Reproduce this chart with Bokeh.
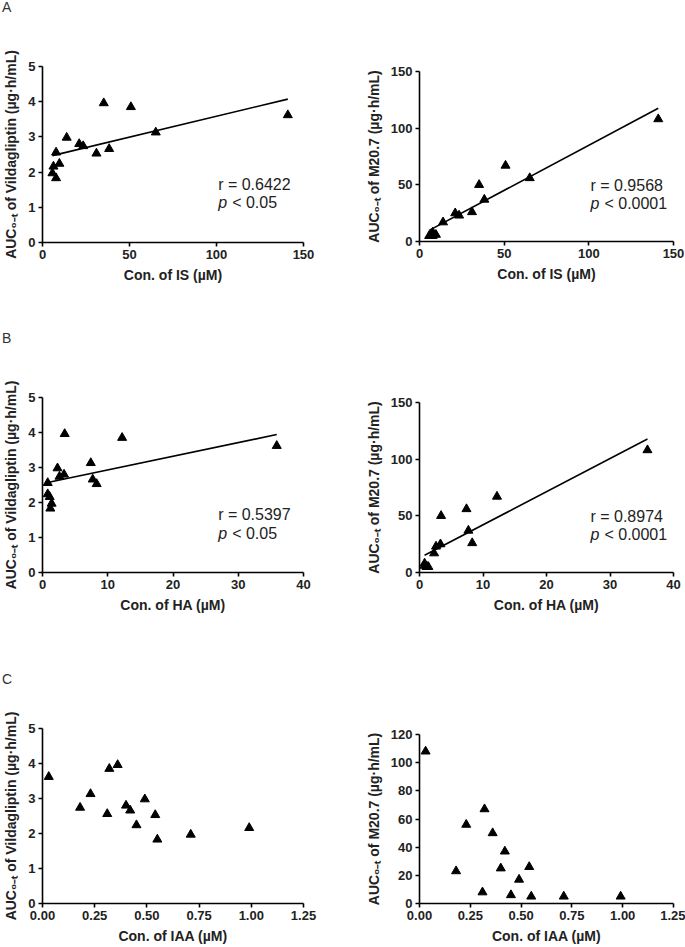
import numpy as np
from bokeh.plotting import figure
from bokeh.layouts import column, row
from bokeh.models import Div, Label, Range1d, FixedTicker, NumeralTickFormatter
from bokeh.embed import file_html
from bokeh.resources import INLINE

# ---- data (one entry per subject) ----
is_conc = [141.0, 23.4, 65.1, 7.8, 50.8, 35.2, 21.1, 38.3, 9.7, 13.9, 31.0, 7.8, 5.7, 6.3]
ha_conc = [35.9, 2.6, 7.4, 0.8, 12.2, 3.4, 3.3, 7.7, 0.8, 2.3, 8.3, 1.2, 1.4, 1.1]
iaa_conc = [0.03, 0.18, 0.23, 0.31, 0.32, 0.36, 0.40, 0.42, 0.45, 0.49, 0.54, 0.55, 0.71, 0.99]
auc_vilda = [3.62, 2.74, 3.13, 2.56, 3.85, 3.96, 2.80, 2.66, 2.24, 2.98, 2.53, 1.83, 1.97, 2.16]
auc_m207 = [108, 23, 56, 8, 67, 50, 25, 37, 6, 17, 26, 5, 5, 5]

ticks_is = [0, 50, 100, 150]
ticks_ha = [0, 10, 20, 30, 40]
ticks_iaa = [0.0, 0.25, 0.5, 0.75, 1.0, 1.25]
ticks_vilda = [0, 1, 2, 3, 4, 5]
ticks_m207 = [0, 50, 100, 150]
ticks_m207_c = [0, 20, 40, 60, 80, 100, 120]

stats_a_left = ("r = 0.6422", "< 0.05")
stats_a_right = ("r = 0.9568", "< 0.0001")
stats_b_left = ("r = 0.5397", "< 0.05")
stats_b_right = ("r = 0.8974", "< 0.0001")

FONT = "Liberation Sans"
YL_V = "AUC\u2080\u208b\u209c of Vildagliptin (\u00b5g\u00b7h/mL)"
YL_M = "AUC\u2080\u208b\u209c of M20.7 (\u00b5g\u00b7h/mL)"


def make(x, y, xr, yr, xt, yt, xlabel, ylabel, w, h, bl, br, bt, bb, xfmt="0", stats=None):
    p = figure(output_backend="svg", toolbar_location=None,
               width=w, height=h,
               min_border_left=bl, min_border_right=br,
               min_border_top=bt, min_border_bottom=bb,
               x_range=Range1d(*xr), y_range=Range1d(*yr))
    p.scatter(x, y, marker="triangle", size=9, color="black")
    if stats is not None:
        k, b = np.polyfit(x, y, 1)
        xs = [min(x), max(x)]
        p.line(xs, [k * v + b for v in xs], color="black", line_width=1.6)
        lx = xr[0] + 0.673 * (xr[1] - xr[0])
        y1 = yr[0] + 0.33 * (yr[1] - yr[0])
        y2 = yr[0] + 0.225 * (yr[1] - yr[0])
        common = dict(text_font=FONT, text_font_size="16px", text_color="#222222",
                      text_baseline="alphabetic", text_align="left")
        p.add_layout(Label(x=lx, y=y1, text=stats[0], **common))
        p.add_layout(Label(x=lx, y=y2, text="p", text_font_style="italic", **common))
        p.add_layout(Label(x=lx, y=y2, x_offset=14, text=stats[1], **common))
    p.xaxis.ticker = FixedTicker(ticks=xt)
    p.yaxis.ticker = FixedTicker(ticks=yt)
    p.xaxis.formatter = NumeralTickFormatter(format=xfmt)
    p.yaxis.formatter = NumeralTickFormatter(format="0")
    p.xaxis.axis_label = xlabel
    p.yaxis.axis_label = ylabel
    for ax in (p.xaxis, p.yaxis):
        ax.axis_line_width = 1.6
        ax.axis_line_color = "black"
        ax.major_tick_line_width = 1.6
        ax.major_tick_line_color = "black"
        ax.major_tick_in = 0
        ax.major_tick_out = 4
        ax.minor_tick_line_color = None
        ax.major_label_text_font = FONT
        ax.major_label_text_font_style = "bold"
        ax.major_label_text_font_size = "13px"
        ax.major_label_text_color = "#222222"
        ax.axis_label_text_font = FONT
        ax.axis_label_text_font_style = "bold"
        ax.axis_label_text_font_size = "14px"
        ax.axis_label_text_color = "#222222"
        ax.major_label_standoff = 3
    p.xaxis.axis_label_standoff = 5
    p.yaxis.axis_label_standoff = 6
    p.grid.visible = False
    p.outline_line_color = None
    p.background_fill_color = "white"
    p.border_fill_color = "white"
    return p


def letter(t):
    return Div(text=t, width=40, height=14, margin=0,
               styles={"font-family": FONT, "font-size": "14px", "color": "#333333",
                       "line-height": "14px", "padding-left": "2px"})


LW, LBL, LBR = 350, 40, 47
RW, RBL, RBR = 335, 69, 12

a_l = make(is_conc, auc_vilda, (0, 150), (0, 5), ticks_is, ticks_vilda, "Con. of IS (\u00b5M)", YL_V,
           LW, 317, LBL, LBR, 52, 89, stats=stats_a_left)
a_r = make(is_conc, auc_m207, (0, 150), (0, 150), ticks_is, ticks_m207, "Con. of IS (\u00b5M)", YL_M,
           RW, 317, RBL, RBR, 57, 90, stats=stats_a_right)
b_l = make(ha_conc, auc_vilda, (0, 40), (0, 5), ticks_ha, ticks_vilda, "Con. of HA (\u00b5M)", YL_V,
           LW, 327, LBL, LBR, 52, 100, stats=stats_b_left)
b_r = make(ha_conc, auc_m207, (0, 40), (0, 150), ticks_ha, ticks_m207, "Con. of HA (\u00b5M)", YL_M,
           RW, 327, RBL, RBR, 57, 100, stats=stats_b_right)
c_l = make(iaa_conc, auc_vilda, (0, 1.25), (0, 5), ticks_iaa, ticks_vilda, "Con. of IAA (\u00b5M)", YL_V,
           LW, 261, LBL, LBR, 42, 44, xfmt="0.00")
c_r = make(iaa_conc, auc_m207, (0, 1.25), (0, 120), ticks_iaa, ticks_m207_c, "Con. of IAA (\u00b5M)", YL_M,
           RW, 261, RBL, RBR, 48, 44, xfmt="0.00")


def pair(a, b):
    return row(column(a), column(b))


layout = column(letter("A"), pair(a_l, a_r), letter("B"), pair(b_l, b_r), letter("C"), pair(c_l, c_r))

open("out.html", "w").write(file_html(layout, INLINE))
